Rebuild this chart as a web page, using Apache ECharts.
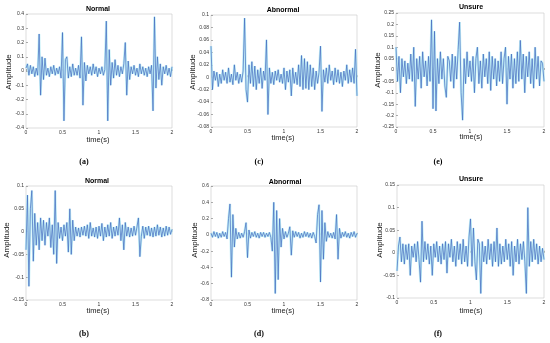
<!DOCTYPE html>
<html><head><meta charset="utf-8">
<script src="https://cdn.jsdelivr.net/npm/echarts@6/dist/echarts.min.js"></script>
<style>html,body{margin:0;padding:0;background:#fff}#c{width:550px;height:343px}</style>
</head><body><div id="c"></div>
<script>
// time step between samples (s)
var dt = 0.02;
var xTicks = ['0','0.5','1','1.5','2'];
var panelTitles = ['Normal','Abnormal','Unsure','Normal','Abnormal','Unsure'];
var panelLabels = ['(a)','(c)','(e)','(b)','(d)','(f)'];

var sigA = [0.02,0.05,-0.03,0.04,-0.02,0.03,-0.04,0.02,-0.03,0.26,
 -0.17,0.1,-0.06,0.09,-0.03,0.02,-0.04,0.03,-0.02,0.04,
 -0.03,0.02,-0.02,0.03,-0.05,0.27,-0.35,0.08,0.1,-0.05,
 0.03,-0.04,0.05,-0.03,0.02,-0.03,0.04,-0.05,0.24,-0.24,
 0.06,-0.07,0.04,-0.02,0.03,-0.03,0.05,-0.02,0.03,-0.04,
 0.02,-0.02,0.03,-0.03,0.01,0.35,-0.35,0.15,-0.1,0.06,
 -0.05,0.08,-0.03,0.04,-0.04,0.03,-0.02,0.05,0.2,-0.17,
 0.07,-0.06,0.03,-0.02,0.04,-0.03,0.02,-0.04,0.05,-0.02,
 0.03,-0.03,0.02,-0.04,0.03,-0.02,0.04,-0.28,0.38,-0.12,
 0.1,-0.06,0.05,-0.1,0.03,-0.02,0.04,-0.03,0.02,-0.04,
 0.03];
var sigC = [0.05,-0.02,0.01,-0.005,0.008,-0.015,0.005,-0.01,0.012,-0.005,
 0.008,-0.01,0.015,-0.008,0.005,-0.012,0.02,-0.005,0.008,-0.01,
 0.005,-0.008,0.01,0.095,-0.02,-0.04,0.02,-0.01,0.025,-0.015,
 0.018,-0.02,0.012,-0.01,0.015,-0.018,0.01,-0.005,0.06,-0.06,
 0.015,-0.01,0.008,-0.012,0.01,-0.005,0.012,-0.008,0.005,-0.01,
 0.015,-0.02,0.01,-0.008,0.012,-0.03,0.015,-0.01,0.008,-0.012,
 0.02,-0.015,0.035,-0.02,0.03,-0.018,0.025,-0.02,0.02,-0.015,
 0.015,-0.02,0.01,-0.01,0.008,0.05,-0.055,0.012,-0.008,0.015,
 -0.01,0.02,-0.005,0.01,-0.012,0.015,-0.008,0.012,-0.01,0.008,
 -0.015,0.01,-0.005,0.02,-0.01,0.012,-0.008,0.015,-0.01,0.045,
 -0.03];
var sigE = [0.1,-0.05,0.06,-0.1,0.05,-0.03,0.04,-0.06,0.03,-0.04,
 0.07,-0.05,0.1,-0.16,0.05,-0.04,0.06,-0.08,0.08,-0.03,
 0.04,-0.07,0.06,-0.05,0.22,-0.17,0.17,-0.18,0.05,-0.06,
 0.08,-0.04,0.05,-0.07,-0.12,0.06,0.04,-0.05,0.07,-0.08,
 0.06,-0.04,0.09,0.21,-0.1,-0.22,0.05,-0.06,0.08,-0.03,
 0.04,-0.05,0.06,-0.1,0.05,0.1,-0.06,0.04,-0.08,0.07,
 -0.03,0.05,-0.06,0.08,-0.09,0.06,-0.04,0.05,-0.07,0.04,
 -0.05,0.08,-0.06,0.05,0.1,-0.15,0.06,-0.04,0.07,-0.08,
 0.05,-0.06,0.08,-0.05,0.13,-0.04,0.07,-0.1,0.06,-0.03,
 0.08,-0.06,0.05,-0.08,0.1,-0.04,0.06,-0.07,0.04,0.03,
 -0.05];
var sigB = [-0.04,0.08,-0.12,0.05,0.09,-0.065,0.04,-0.03,0.02,-0.04,
 0.03,-0.02,0.025,-0.03,0.02,-0.01,0.03,-0.035,0.015,-0.05,
 0.09,-0.07,0.02,-0.015,0.01,-0.02,0.015,-0.01,0.02,-0.045,
 0.05,-0.05,0.025,-0.02,0.01,-0.01,0.008,-0.012,0.01,-0.008,
 0.012,-0.01,0.015,-0.015,0.02,-0.01,0.008,-0.012,0.01,-0.015,
 0.012,-0.01,0.018,-0.02,0.01,-0.012,0.015,-0.01,0.02,-0.015,
 0.01,-0.01,0.012,-0.008,0.03,-0.02,0.015,-0.04,0.02,-0.01,
 0.01,-0.012,0.008,-0.01,0.012,-0.008,0.01,0.03,-0.055,-0.01,
 0.012,-0.015,0.01,-0.008,0.012,-0.01,0.008,-0.012,0.01,-0.01,
 0.015,-0.008,0.01,-0.012,0.008,-0.01,0.012,-0.008,0.01,-0.006,
 0.005];
var sigD = [0.02,-0.03,0.04,-0.02,0.03,-0.04,0.02,-0.03,0.04,-0.02,
 0.03,-0.05,0.2,0.38,-0.52,0.25,-0.15,0.08,-0.05,0.03,
 -0.04,0.02,-0.03,0.04,0.15,-0.28,0.06,-0.04,0.03,-0.02,
 0.04,-0.03,0.02,-0.04,0.03,-0.02,0.03,-0.03,0.02,-0.02,
 0.03,-0.03,-0.2,0.4,-0.72,0.3,-0.55,0.2,-0.15,0.08,
 -0.05,0.04,-0.03,0.02,0.1,-0.25,0.05,-0.03,0.04,-0.02,
 0.03,-0.04,0.02,-0.03,0.04,-0.02,0.03,-0.03,0.02,-0.04,
 0.03,-0.02,-0.1,0.25,0.37,-0.58,0.3,-0.3,0.15,-0.08,
 0.04,-0.03,0.02,-0.04,0.03,-0.05,0.25,-0.3,0.08,-0.04,
 0.03,-0.02,0.04,-0.03,0.02,-0.04,0.03,-0.02,0.04,-0.03,
 0.02];
var sigF = [-0.04,0.015,0.035,-0.02,0.02,-0.025,0.018,-0.015,0.02,-0.05,
 0.015,-0.01,0.02,-0.02,0.025,-0.015,-0.065,0.07,-0.02,0.025,
 -0.015,0.02,-0.025,0.015,-0.05,0.02,-0.01,0.025,-0.02,0.015,
 -0.025,0.02,-0.015,0.025,-0.045,0.02,-0.01,0.03,-0.02,0.015,
 -0.03,0.025,-0.015,0.02,-0.025,0.03,-0.02,0.015,-0.03,0.035,
 0.075,-0.03,0.055,-0.02,-0.06,0.03,0.02,-0.09,0.025,-0.02,
 0.015,-0.025,0.03,-0.015,0.02,-0.03,0.025,-0.02,0.055,-0.03,
 0.02,-0.025,0.015,-0.02,0.03,-0.015,0.02,-0.03,0.025,-0.05,
 0.015,-0.02,0.03,-0.025,0.02,-0.015,0.025,-0.02,-0.09,0.1,
 -0.03,0.025,-0.02,0.03,-0.015,0.02,-0.025,0.015,-0.02,0.01,
 -0.015];

var signals = [sigA, sigC, sigE, sigB, sigD, sigF];
var yMin = [-0.4,-0.08,-0.25,-0.15,-0.8,-0.1];
var yMax = [0.4,0.1,0.25,0.1,0.6,0.15];
var yStep = [0.1,0.02,0.05,0.05,0.2,0.05];

// layout (px)
var grids = [
 {left:26, top:14, width:146, height:114},
 {left:211, top:15, width:146, height:112},
 {left:396, top:13, width:148, height:114},
 {left:26, top:186, width:146, height:114},
 {left:211, top:186, width:146, height:114},
 {left:397, top:185, width:147, height:113}
];
var titlePos = [[98,9],[283,10],[471,7],[97,181],[285,182],[471,179]];
var ampPos = [[9,72],[193,72],[378,70],[7,240],[195,240],[380,240]];
var timePos = [[98,140],[283,138],[471,137],[98,311],[283,311],[471,311]];
var labelPos = [[84,162],[259,162],[438,162],[84,334],[259,334],[438,334]];

var xAxes=[], yAxes=[], series=[], graphic=[];
for (var k=0;k<6;k++){
  var g = grids[k];
  grids[k] = Object.assign({show:true, borderColor:'#c8c8c8', borderWidth:0.6, containLabel:false}, g);
  xAxes.push({gridIndex:k, type:'value', min:0, max:2, interval:0.5,
    axisLine:{show:false}, splitLine:{show:false},
    axisTick:{show:true, inside:true, length:2, lineStyle:{color:'#777', width:0.6}},
    axisLabel:{fontSize:5, color:'#333', margin:2, fontFamily:'Liberation Sans',
      formatter:function(v){return xTicks[Math.round(v/0.5)];}}});
  yAxes.push({gridIndex:k, type:'value', min:yMin[k], max:yMax[k], interval:yStep[k],
    axisLine:{show:false}, splitLine:{show:false},
    axisTick:{show:true, inside:true, length:2, lineStyle:{color:'#777', width:0.6}},
    axisLabel:{fontSize:5, color:'#333', margin:2, fontFamily:'Liberation Sans',
      formatter:function(v){return String(+v.toFixed(2));}}});
  var d = signals[k].map(function(v,i){return [i*dt, v];});
  series.push({type:'line', xAxisIndex:k, yAxisIndex:k, data:d, symbol:'none', silent:true,
    lineStyle:{color:'#bff0f7', width:2.4, opacity:0.9}, z:1, animation:false});
  series.push({type:'line', xAxisIndex:k, yAxisIndex:k, data:d, symbol:'none', silent:true,
    lineStyle:{color:'#4468bf', width:0.7}, z:2, animation:false});
  graphic.push({type:'text', x:titlePos[k][0], y:titlePos[k][1],
    style:{text:panelTitles[k], font:'bold 7px "Liberation Sans"', fill:'#000', align:'center', verticalAlign:'middle'}});
  graphic.push({type:'text', x:ampPos[k][0], y:ampPos[k][1], rotation:Math.PI/2,
    style:{text:'Amplitude', font:'8px "Liberation Sans"', fill:'#222', align:'center', verticalAlign:'middle'}});
  graphic.push({type:'text', x:timePos[k][0], y:timePos[k][1],
    style:{text:'time(s)', font:'7.5px "Liberation Sans"', fill:'#222', align:'center', verticalAlign:'middle'}});
  graphic.push({type:'text', x:labelPos[k][0], y:labelPos[k][1],
    style:{text:panelLabels[k], font:'bold 8px "Liberation Serif"', fill:'#000', align:'center', verticalAlign:'middle'}});
}

var chart = echarts.init(document.getElementById('c'), null, {renderer:'canvas'});
chart.setOption({animation:false, backgroundColor:'#fff', grid:grids, xAxis:xAxes, yAxis:yAxes, series:series, graphic:graphic});
</script></body></html>
